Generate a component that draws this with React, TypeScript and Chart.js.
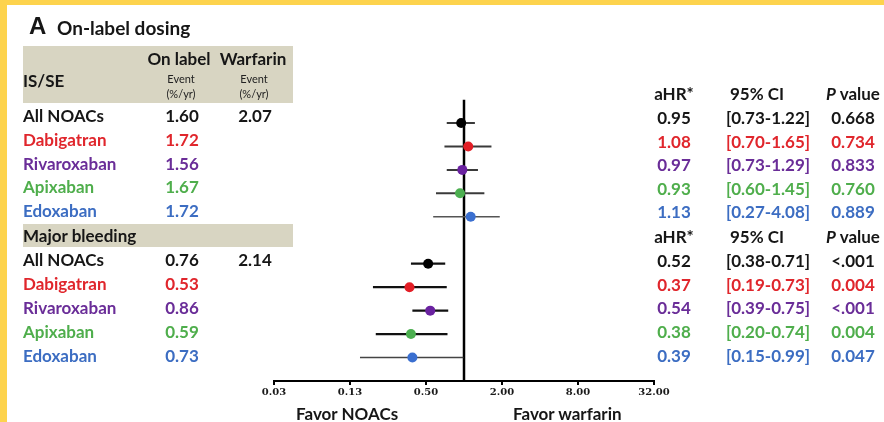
import React, { useEffect, useRef } from "react";
import { Chart, registerables } from "chart.js";

Chart.register(...registerables);

// ---------- data ----------
const drugs = ["All NOACs", "Dabigatran", "Rivaroxaban", "Apixaban", "Edoxaban"];

const isseOnLabel = ["1.60", "1.72", "1.56", "1.67", "1.72"];
const isseWarfarin = ["2.07", "", "", "", ""];
const isseHR = [0.95, 1.08, 0.97, 0.93, 1.13];
const isseLo = [0.73, 0.7, 0.73, 0.6, 0.57];
const isseHi = [1.22, 1.65, 1.29, 1.45, 1.92];
const isseCI = ["[0.73-1.22]", "[0.70-1.65]", "[0.73-1.29]", "[0.60-1.45]", "[0.27-4.08]"];
const isseP = ["0.668", "0.734", "0.833", "0.760", "0.889"];

const mbOnLabel = ["0.76", "0.53", "0.86", "0.59", "0.73"];
const mbWarfarin = ["2.14", "", "", "", ""];
const mbHR = [0.52, 0.37, 0.54, 0.38, 0.39];
const mbLo = [0.38, 0.19, 0.39, 0.2, 0.15];
const mbHi = [0.71, 0.73, 0.75, 0.74, 0.99];
const mbCI = ["[0.38-0.71]", "[0.19-0.73]", "[0.39-0.75]", "[0.20-0.74]", "[0.15-0.99]"];
const mbP = ["<.001", "0.004", "<.001", "0.004", "0.047"];

const tickValues = [0.03125, 0.125, 0.5, 2, 8, 32];
const tickLabels = ["0.03", "0.13", "0.50", "2.00", "8.00", "32.00"];

// ---------- styles ----------
const textColors = ["#161616", "#e0262c", "#6a2d98", "#4fae4c", "#3c6dc2"];
const pointColors = ["#000000", "#e31e26", "#6a22a0", "#4caf50", "#3a6fd0"];
const FONT = "Lato, 'Noto Sans', sans-serif";

type TOpts = {
  align?: "left" | "center" | "right";
  size?: number;
  color?: string;
  weight?: number | string;
  italic?: boolean;
  family?: string;
};

function T(x: number, baseline: number, text: React.ReactNode, o: TOpts = {}, key?: string) {
  const size = o.size ?? 17;
  const align = o.align ?? "left";
  const style: React.CSSProperties = {
    position: "absolute",
    top: baseline - 0.887 * size,
    fontFamily: o.family ?? FONT,
    fontSize: size,
    lineHeight: `${size}px`,
    fontWeight: (o.weight ?? 700) as any,
    fontStyle: o.italic ? "italic" : "normal",
    color: o.color ?? "#161616",
    whiteSpace: "nowrap",
  };
  if (align === "left") style.left = x;
  else if (align === "right") style.right = 884 - x;
  else {
    style.left = x;
    style.transform = "translateX(-50%)";
  }
  return (
    <div key={key} style={style}>
      {text}
    </div>
  );
}

export default function App() {
  const ref = useRef<HTMLCanvasElement>(null);

  useEffect(() => {
    const canvas = ref.current;
    if (!canvas) return;

    const rowIsse = drugs.map((_, i) => i);
    const rowMb = drugs.map((_, i) => i + 6);

    const ciSets: any[] = [];
    drugs.forEach((_, i) => {
      ciSets.push({
        data: [
          { x: isseLo[i], y: rowIsse[i] },
          { x: isseHi[i], y: rowIsse[i] },
        ],
        showLine: true,
        borderColor: i === 4 ? "#555" : "#3a3a3a",
        borderWidth: i === 4 ? 1.5 : 2,
        pointRadius: 0,
        order: 1,
      });
      ciSets.push({
        data: [
          { x: mbLo[i], y: rowMb[i] },
          { x: mbHi[i], y: rowMb[i] },
        ],
        showLine: true,
        borderColor: i === 4 ? "#444" : "#111",
        borderWidth: i === 4 ? 1.5 : 2.3,
        pointRadius: 0,
        order: 1,
      });
    });

    const points = {
      data: [
        ...drugs.map((_, i) => ({ x: isseHR[i], y: rowIsse[i] })),
        ...drugs.map((_, i) => ({ x: mbHR[i], y: rowMb[i] })),
      ],
      pointBackgroundColor: [...pointColors, ...pointColors],
      pointBorderWidth: 0,
      pointRadius: 5,
      showLine: false,
      order: 0,
    };

    const refLine = {
      data: [
        { x: 1, y: -1 },
        { x: 1, y: 11 },
      ],
      showLine: true,
      borderColor: "#000",
      borderWidth: 2.5,
      pointRadius: 0,
      order: 2,
    };

    const chart = new Chart(canvas, {
      type: "scatter",
      data: { datasets: [points, ...ciSets, refLine] as any },
      options: {
        animation: false,
        responsive: false,
        devicePixelRatio: 1,
        layout: { padding: { left: 274, right: 230, top: 99.5, bottom: 21 } },
        plugins: { legend: { display: false }, tooltip: { enabled: false } },
        scales: {
          x: {
            type: "logarithmic",
            min: tickValues[0],
            max: tickValues[tickValues.length - 1],
            afterBuildTicks: (s: any) => {
              s.ticks = tickValues.map((v) => ({ value: v }));
            },
            afterFit: (s: any) => {
              s.height = 20;
            },
            ticks: {
              autoSkip: false,
              maxRotation: 0,
              padding: 1,
              color: "#1a1a1a",
              font: { family: "'DejaVu Serif', serif", weight: "bold", size: 10 },
              callback: (v: any) => {
                const idx = tickValues.indexOf(Number(v));
                return idx >= 0 ? tickLabels[idx] : "";
              },
            },
            grid: {
              drawOnChartArea: false,
              drawTicks: true,
              tickLength: 4,
              color: "#000",
              lineWidth: 2,
            },
            border: { display: true, color: "#000", width: 2 },
          } as any,
          y: { type: "linear", min: -1, max: 11, reverse: true, display: false },
        },
      },
    });
    return () => chart.destroy();
  }, []);

  const topBase = (i: number) => 122.5 + 23.6 * i;
  const mbBase = (i: number) => 266.5 + 23.8 * i;
  const rTop = (i: number) => 124 + 23.6 * i;
  const rMb = (i: number) => 267 + 23.75 * i;

  const texts: React.ReactNode[] = [];
  // title
  texts.push(T(29, 35, "A", { size: 24, family: "'Liberation Sans', Arial, sans-serif" }, "tA"));
  texts.push(T(57, 35, "On-label dosing", { size: 19 }, "tT"));
  // header
  texts.push(T(179, 65, "On label", { align: "center" }, "h1"));
  texts.push(T(253, 65, "Warfarin", { align: "center" }, "h2"));
  texts.push(T(23, 87, "IS/SE", {}, "h3"));
  texts.push(T(181, 83, "Event", { size: 11, weight: 400, align: "center", color: "#222" }, "h4"));
  texts.push(T(181, 97.5, "(%/yr)", { size: 11, weight: 400, align: "center", color: "#222" }, "h5"));
  texts.push(T(254, 83, "Event", { size: 11, weight: 400, align: "center", color: "#222" }, "h6"));
  texts.push(T(254, 97.5, "(%/yr)", { size: 11, weight: 400, align: "center", color: "#222" }, "h7"));
  texts.push(T(23, 242, "Major bleeding", {}, "mbh"));

  drugs.forEach((d, i) => {
    const c = textColors[i];
    texts.push(T(23, topBase(i), d, { color: c }, "n" + i));
    texts.push(T(182, topBase(i), isseOnLabel[i], { color: c, align: "center" }, "o" + i));
    if (isseWarfarin[i]) texts.push(T(255, topBase(i), isseWarfarin[i], { color: c, align: "center" }, "w" + i));
    texts.push(T(23, mbBase(i), d, { color: c }, "mn" + i));
    texts.push(T(182, mbBase(i), mbOnLabel[i], { color: c, align: "center" }, "mo" + i));
    if (mbWarfarin[i]) texts.push(T(255, mbBase(i), mbWarfarin[i], { color: c, align: "center" }, "mw" + i));

    texts.push(T(674, rTop(i), isseHR[i].toFixed(2), { color: c, align: "center" }, "rh" + i));
    texts.push(T(768, rTop(i), isseCI[i], { color: c, align: "center" }, "rc" + i));
    texts.push(T(853, rTop(i), isseP[i], { color: c, align: "center" }, "rp" + i));
    texts.push(T(674, rMb(i), mbHR[i].toFixed(2), { color: c, align: "center" }, "mrh" + i));
    texts.push(T(768, rMb(i), mbCI[i], { color: c, align: "center" }, "mrc" + i));
    texts.push(T(853, rMb(i), mbP[i], { color: c, align: "center" }, "mrp" + i));
  });

  [100, 243].forEach((b, k) => {
    texts.push(T(674, b, "aHR*", { align: "center" }, "ha" + k));
    texts.push(T(757, b, "95% CI", { align: "center" }, "hc" + k));
    texts.push(
      T(
        853,
        b,
        <>
          <i>P</i> value
        </>,
        { align: "center" },
        "hp" + k
      )
    );
  });

  texts.push(T(296, 420, "Favor NOACs", {}, "fn"));
  texts.push(T(513, 420, "Favor warfarin", {}, "fw"));

  return (
    <div
      style={{
        position: "fixed",
        left: 0,
        top: 0,
        width: 884,
        height: 422,
        background: "#fff",
        overflow: "hidden",
      }}
    >
      <div style={{ position: "absolute", left: 0, top: 0, width: 884, height: 5, background: "#fdd34d" }} />
      <div style={{ position: "absolute", left: 0, top: 0, width: 7, height: 422, background: "#fdd34d" }} />
      <div style={{ position: "absolute", left: 23, top: 46, width: 270, height: 57, background: "#d8d5c2" }} />
      <div style={{ position: "absolute", left: 23, top: 224, width: 270, height: 23, background: "#d8d5c2" }} />
      <canvas ref={ref} width={884} height={422} style={{ position: "absolute", left: 0, top: 0 }} />
      {texts}
    </div>
  );
}
